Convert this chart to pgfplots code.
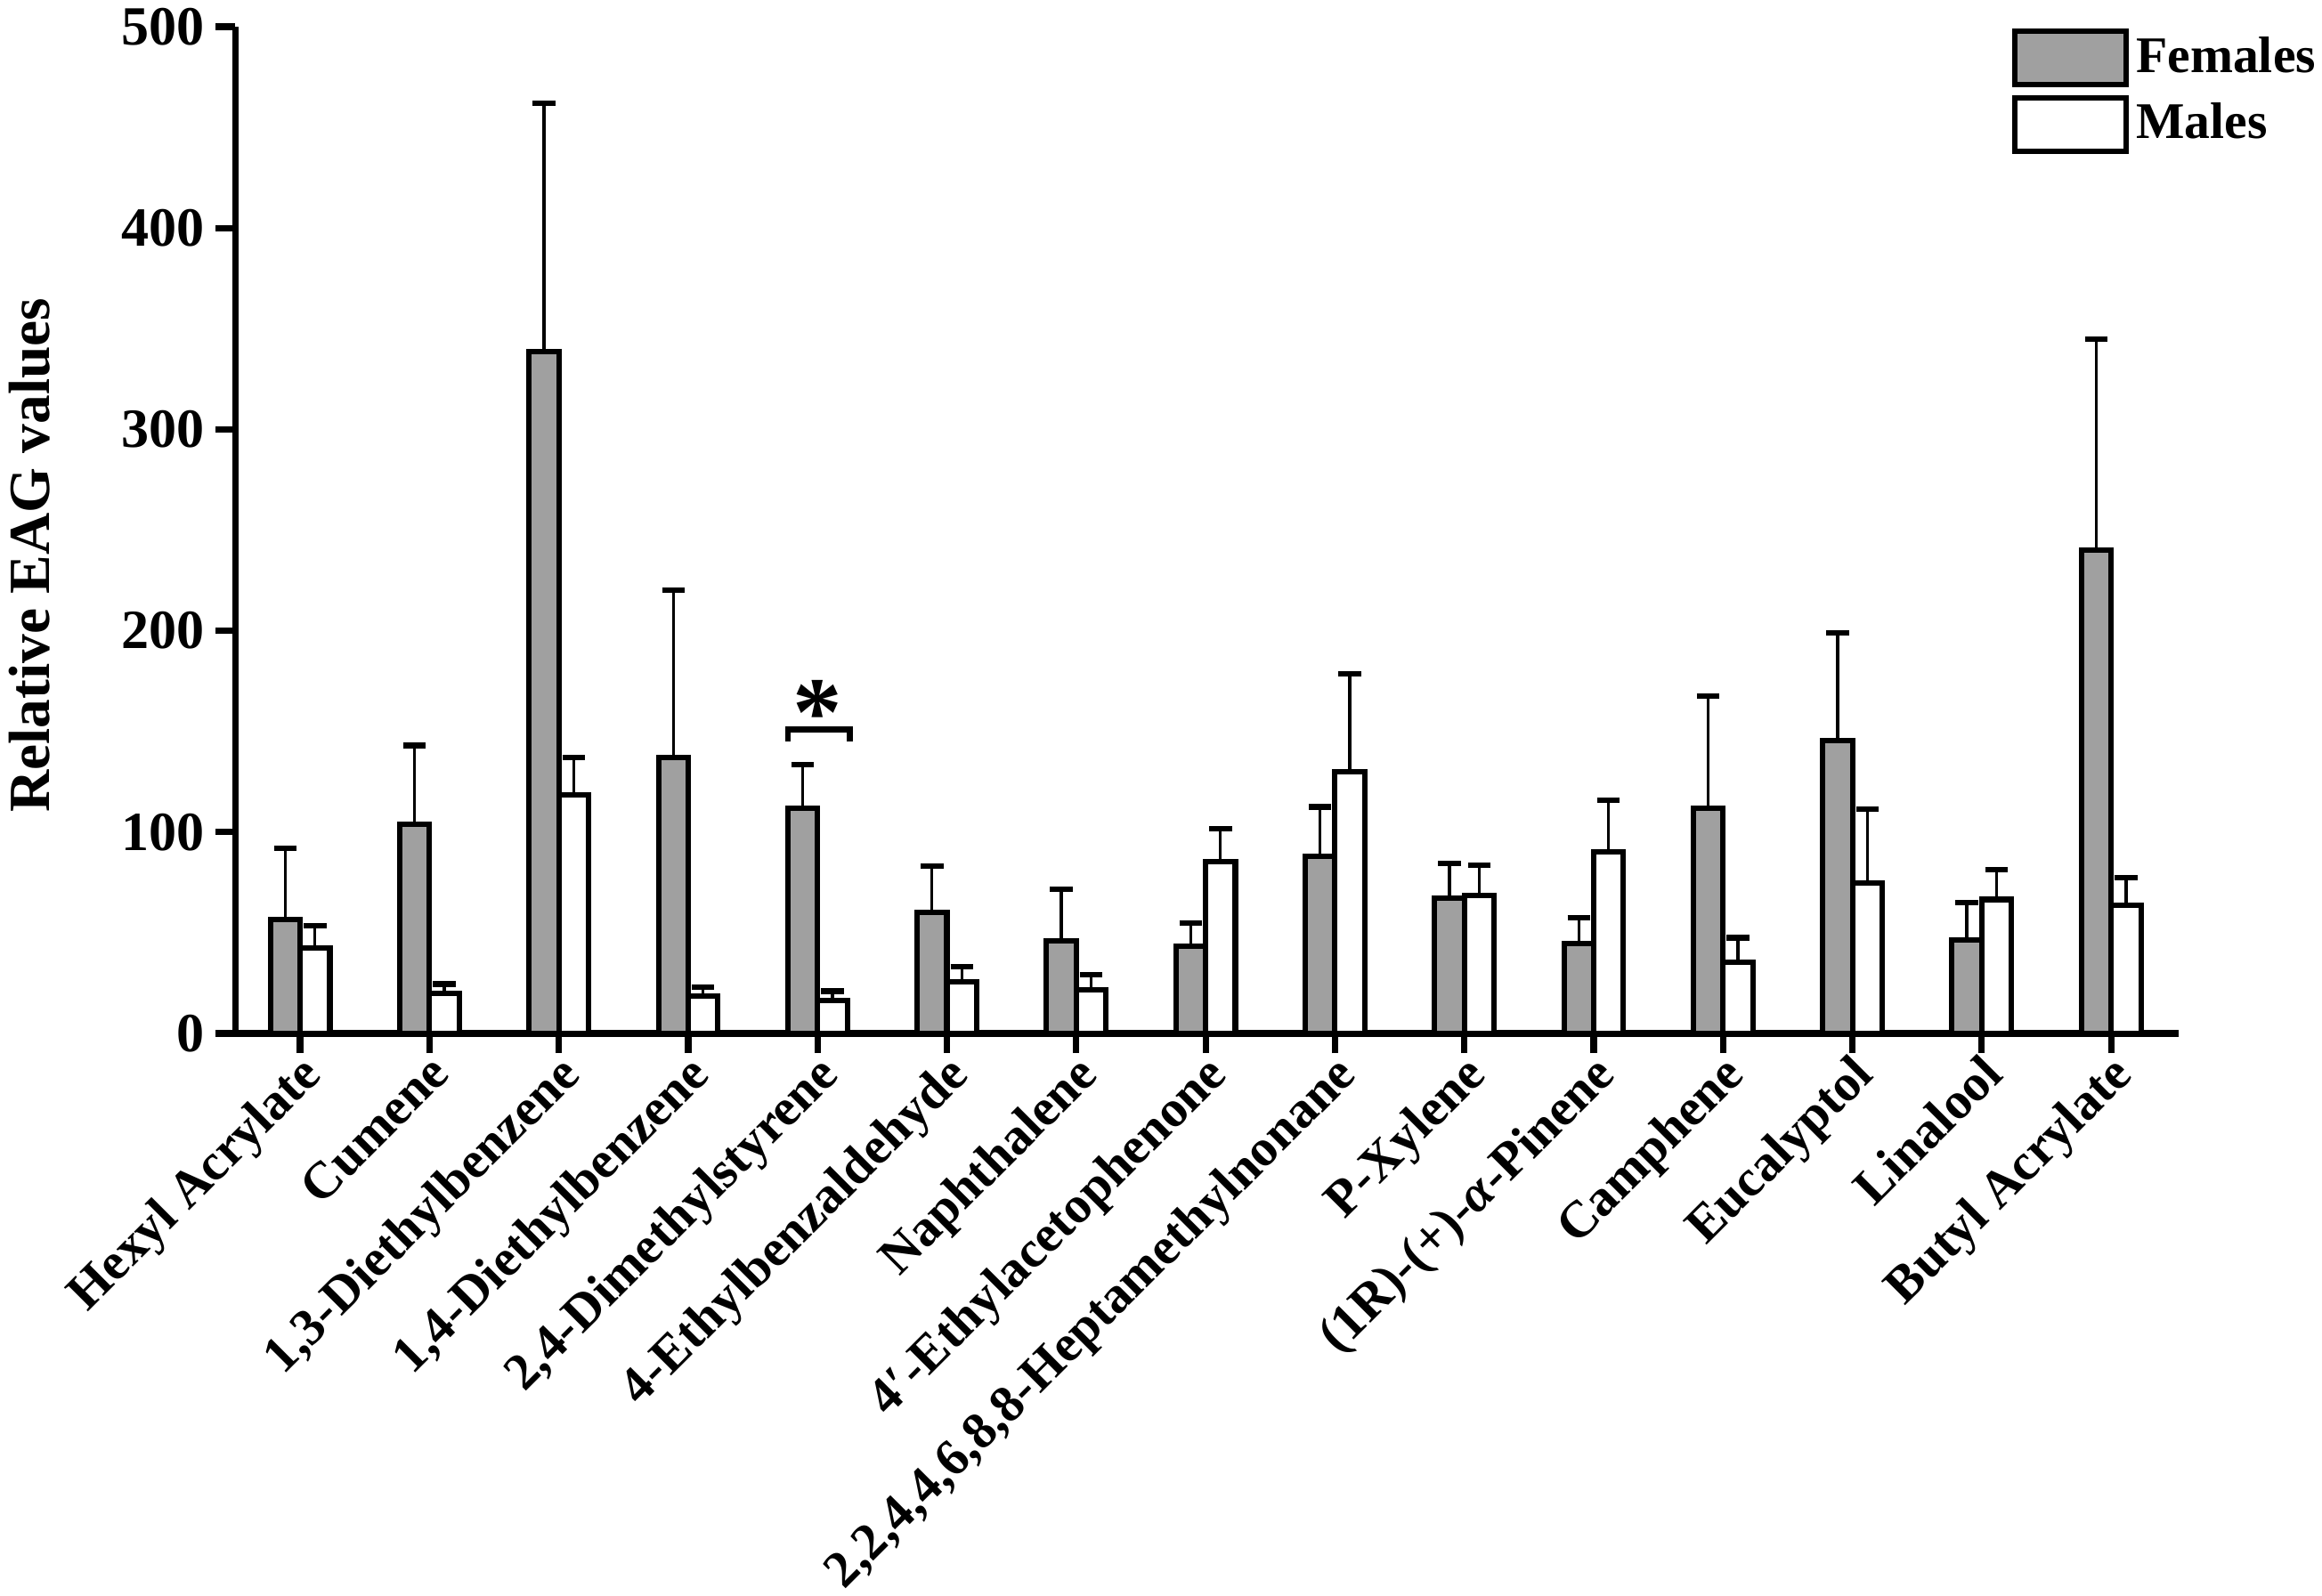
\documentclass[border=0pt]{standalone}
\usepackage{fontspec}
\setmainfont{Liberation Serif}
\usepackage{pgfplots}
\pgfplotsset{compat=1.18}
\definecolor{fgray}{RGB}{160,160,160}
\begin{document}
\begin{tikzpicture}
\useasboundingbox (-47.7pt,-114pt) rectangle (422.7pt,209.4pt);
\begin{axis}[
  at={(0,0)}, anchor=south west,
  scale only axis, width=393.6pt, height=204pt,
  xmin=-0.5, xmax=14.52, ymin=0, ymax=500,
  clip=false,
  axis x line*=bottom, axis y line*=left,
  axis line style={line width=1.3pt, -},
  xtick pos=bottom, ytick pos=left,
  ytick={0,100,200,300,400,500},
  xtick={0,1,2,3,4,5,6,7,8,9,10,11,12,13,14},
  xticklabels={Hexyl Acrylate, Cumene, {1,3-Diethylbenzene}, {1,4-Diethylbenzene}, {2,4-Dimethylstyrene}, 4-Ethylbenzaldehyde, Naphthalene, 4′-Ethylacetophenone, {2,2,4,4,6,8,8-Heptamethylnonane}, P-Xylene, {(1R)-(+)-\textit{α}-Pinene}, Camphene, Eucalyptol, Linalool, Butyl Acrylate},
  tick align=outside, major tick length=4pt,
  tick style={line width=1.3pt, black},
  /pgf/number format/assume math mode=true,
  yticklabel style={font=\fontsize{11.2}{13}\selectfont\bfseries, xshift=1.2pt},
  xticklabel style={font=\fontsize{10.5}{13}\selectfont\bfseries, xshift=-0.5pt, yshift=2pt, rotate=45, anchor=north east, inner sep=1pt},
  ylabel={Relative EAG values},
  ylabel style={font=\fontsize{11.8}{13}\selectfont\bfseries, at={(axis description cs:-0.106,0.475)}, anchor=center},
  ybar, bar width=0.23,
  legend cell align=left,
  legend style={at={(0.914,0.999)}, anchor=north west, draw=none, fill=none, inner sep=0pt,
    font=\fontsize{10.4}{12}\selectfont\bfseries, row sep=1.6pt,
    nodes={inner sep=1.5pt}},
]
\addplot[bar shift=-0.115, fill=fgray, draw=black, line width=1.1pt,
  legend image code/.code={\draw[fill=fgray, draw=black, line width=1.1pt] (0pt,-5.4pt) rectangle (22.5pt,5.4pt);},
  error bars/.cd, y dir=plus, y explicit,
  error bar style={line width=0.6pt, black},
  error mark options={rotate=90, mark size=2.3pt, line width=1.1pt, black}]
coordinates {
(0,56.5) +- (0,35.5)
(1,104) +- (0,39)
(2,338.5) +- (0,123.5)
(3,137) +- (0,83)
(4,112) +- (0,21.5)
(5,60) +- (0,23)
(6,46) +- (0,25.5)
(7,43.5) +- (0,11.5)
(8,88) +- (0,24.5)
(9,67) +- (0,17.5)
(10,44.5) +- (0,13)
(11,112) +- (0,55.5)
(12,145.5) +- (0,53.5)
(13,46.5) +- (0,18.5)
(14,240) +- (0,105)
};
\addlegendentry{Females}
\addplot[bar shift=0.115, fill=white, draw=black, line width=1.1pt,
  legend image code/.code={\draw[fill=white, draw=black, line width=1.1pt] (0pt,-5.4pt) rectangle (22.5pt,5.4pt);},
  error bars/.cd, y dir=plus, y explicit,
  error bar style={line width=0.6pt, black},
  error mark options={rotate=90, mark size=2.3pt, line width=1.1pt, black}]
coordinates {
(0,42.5) +- (0,11)
(1,20) +- (0,4.5)
(2,118.5) +- (0,18.5)
(3,18.5) +- (0,4.5)
(4,16.5) +- (0,4.5)
(5,25.5) +- (0,7.5)
(6,21.5) +- (0,7.5)
(7,85.5) +- (0,16)
(8,130) +- (0,48.7)
(9,68.5) +- (0,15)
(10,90) +- (0,26)
(11,35.5) +- (0,12)
(12,74.5) +- (0,37)
(13,66.5) +- (0,15)
(14,63.5) +- (0,14)
};
\addlegendentry{Males}
\draw[line width=1.2pt] (axis cs:3.77,145) -- (axis cs:3.77,151) -- (axis cs:4.25,151) -- (axis cs:4.25,145);
\node[anchor=base, inner sep=0pt] at (axis cs:4.0,143) {\fontsize{20}{20}\selectfont\bfseries *};
\end{axis}
\end{tikzpicture}
\end{document}
